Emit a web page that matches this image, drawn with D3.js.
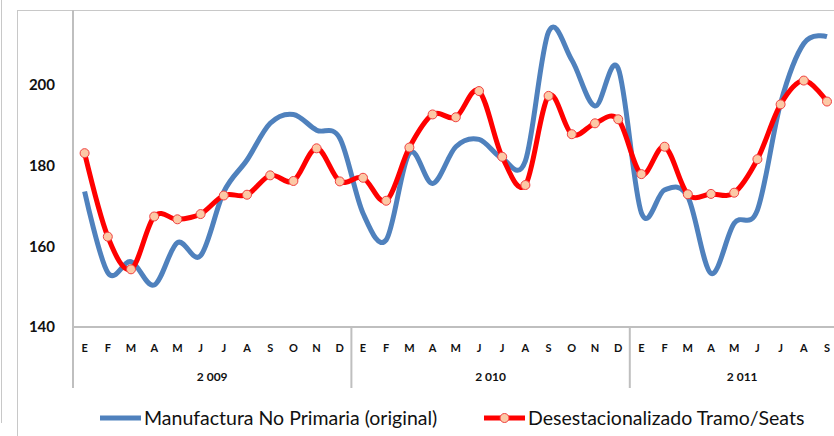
<!DOCTYPE html>
<html>
<head>
<meta charset="utf-8">
<script src="https://cdn.jsdelivr.net/npm/d3@7"></script>
<style>
  body { margin: 0; background: #fff; }
  svg { display: block; }
</style>
</head>
<body>
<svg width="834" height="436"></svg>
<script>
// months of each year shown on the category axis
const monthLabels = ["E", "F", "M", "A", "M", "J", "J", "A", "S", "O", "N", "D"];
const years = ["2 009", "2 010", "2 011"];
const monthsPerYear = [12, 12, 9];

// Manufactura No Primaria (original)
const original = [
  173.6, 153.5, 156.2, 150.4, 160.9, 157.7, 173.5, 181.4, 190.5, 192.7, 188.8, 186.8,
  168.2, 161.6, 183.1, 175.6, 184.7, 186.5, 181.8, 181.2, 213.2, 206.2, 194.8, 204.1,
  168.3, 174.0, 172.3, 153.3, 165.7, 169.0, 195.5, 210.3, 212.0
];
// Desestacionalizado Tramo/Seats
const seasonal = [
  183.1, 162.4, 154.3, 167.4, 166.7, 168.0, 172.6, 172.8, 177.6, 176.2, 184.3, 176.1,
  177.0, 171.3, 184.5, 192.7, 192.0, 198.5, 182.2, 175.2, 197.3, 187.8, 190.5, 191.5,
  177.9, 184.7, 172.9, 173.0, 173.3, 181.6, 195.2, 201.1, 195.9
];
const yTicks = [140, 160, 180, 200];

const svg = d3.select("svg");
const font = "Lato, 'Open Sans', sans-serif";
const grey = "#bfbfbf";

const plot = { left: 73, top: 10, bottom: 327, band: 23.2 };

// outer frame pieces left from the cropped Excel screenshot
svg.append("line").attr("x1", 1.5).attr("x2", 1.5).attr("y1", 0).attr("y2", 423)
  .attr("stroke", "#c8c8c8");
svg.append("line").attr("x1", 17.5).attr("x2", 17.5).attr("y1", 10).attr("y2", 436)
  .attr("stroke", "#c8c8c8");
svg.append("line").attr("x1", 17.5).attr("x2", 834).attr("y1", 10.5).attr("y2", 10.5)
  .attr("stroke", "#c8c8c8");

const idx = d3.range(original.length);
const x = d3.scaleBand()
  .domain(idx)
  .range([plot.left, plot.left + plot.band * idx.length]);

const y = d3.scaleLinear()
  .domain([140, 200])
  .range([plot.bottom, 85]);

// y axis labels
svg.append("g")
  .selectAll("text")
  .data(yTicks)
  .join("text")
  .attr("x", 55)
  .attr("y", (d) => y(d))
  .attr("dy", "0.36em")
  .attr("text-anchor", "end")
  .attr("font-family", font)
  .attr("font-weight", "bold")
  .attr("font-size", 15)
  .attr("fill", "#111")
  .text((d) => d);

// axis lines
svg.append("line")
  .attr("x1", plot.left).attr("x2", plot.left)
  .attr("y1", plot.top).attr("y2", 388)
  .attr("stroke", grey).attr("stroke-width", 2);
svg.append("line")
  .attr("x1", plot.left).attr("x2", 834)
  .attr("y1", plot.bottom).attr("y2", plot.bottom)
  .attr("stroke", grey).attr("stroke-width", 2);

// month labels and year groups
const months = idx.map((i) => monthLabels[i % 12]);
svg.append("g")
  .selectAll("text")
  .data(idx)
  .join("text")
  .attr("x", (i) => x(i) + x.bandwidth() / 2)
  .attr("y", 348)
  .attr("dy", "0.35em")
  .attr("text-anchor", "middle")
  .attr("font-family", font)
  .attr("font-weight", "bold")
  .attr("font-size", 11)
  .attr("fill", "#111")
  .text((i) => months[i]);

let start = 0;
years.forEach((yr, k) => {
  const end = start + monthsPerYear[k];
  const x0 = x(start);
  const x1 = x(end - 1) + x.bandwidth();
  if (k > 0) {
    svg.append("line")
      .attr("x1", x0).attr("x2", x0)
      .attr("y1", plot.bottom).attr("y2", 388)
      .attr("stroke", grey).attr("stroke-width", 2);
  }
  svg.append("text")
    .attr("x", (x0 + x1) / 2 + (k === 2 ? 8 : 0))
    .attr("y", 377)
    .attr("dy", "0.35em")
    .attr("text-anchor", "middle")
    .attr("font-family", font)
    .attr("font-weight", "bold")
    .attr("font-size", 12)
    .attr("fill", "#111")
    .text(yr);
  start = end;
});

// lines (Excel smooth lines)
const line = d3.line()
  .curve(d3.curveCardinal.tension(0))
  .x((d, i) => x(i) + x.bandwidth() / 2)
  .y((d) => y(d));

svg.append("path")
  .attr("d", line(original))
  .attr("fill", "none")
  .attr("stroke", "#4f81bd")
  .attr("stroke-width", 5)
  .attr("stroke-linejoin", "round");

svg.append("path")
  .attr("d", line(seasonal))
  .attr("fill", "none")
  .attr("stroke", "#ff0000")
  .attr("stroke-width", 5)
  .attr("stroke-linejoin", "round");

svg.append("g")
  .selectAll("circle")
  .data(seasonal)
  .join("circle")
  .attr("cx", (d, i) => x(i) + x.bandwidth() / 2)
  .attr("cy", (d) => y(d))
  .attr("r", 4.5)
  .attr("fill", "#fcc9a6")
  .attr("stroke", "#f04040")
  .attr("stroke-width", 1);

// legend
const legend = svg.append("g").attr("font-family", font).attr("font-size", 19.5);
legend.append("line")
  .attr("x1", 100).attr("x2", 141).attr("y1", 418).attr("y2", 418)
  .attr("stroke", "#4f81bd").attr("stroke-width", 5);
legend.append("text")
  .attr("x", 144).attr("y", 418).attr("dy", "0.35em")
  .attr("fill", "#111")
  .text("Manufactura No Primaria (original)");
legend.append("line")
  .attr("x1", 484).attr("x2", 525).attr("y1", 418).attr("y2", 418)
  .attr("stroke", "#ff0000").attr("stroke-width", 5);
legend.append("circle")
  .attr("cx", 504.5).attr("cy", 418).attr("r", 4.5)
  .attr("fill", "#fcc9a6").attr("stroke", "#f04040");
legend.append("text")
  .attr("x", 528).attr("y", 418).attr("dy", "0.35em")
  .attr("fill", "#111")
  .text("Desestacionalizado Tramo/Seats");
</script>
</body>
</html>
